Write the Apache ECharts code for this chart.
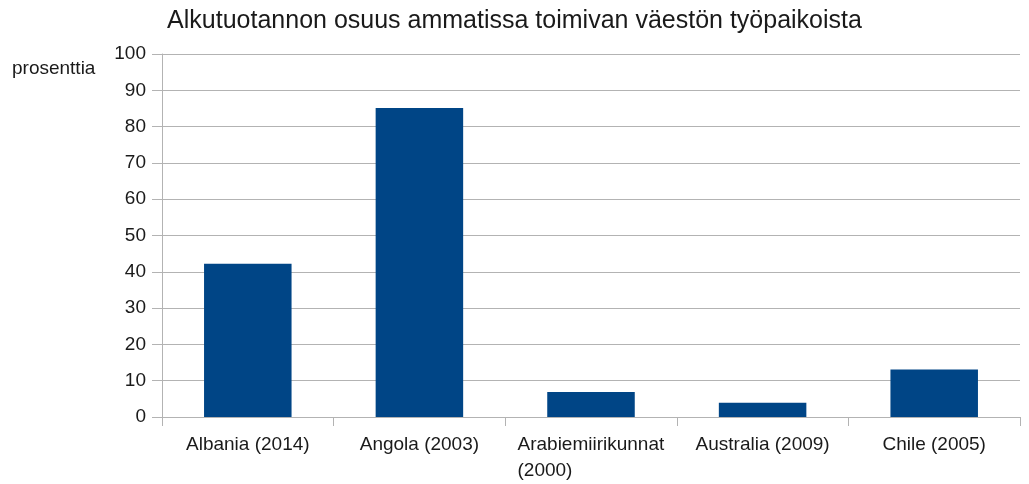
<!DOCTYPE html>
<html>
<head>
<meta charset="utf-8">
<script src="https://cdn.jsdelivr.net/npm/echarts@6/dist/echarts.min.js"></script>
<style>
  html, body { margin: 0; padding: 0; background: #fff; }
  #main { width: 1029px; height: 484px; }
</style>
</head>
<body>
<div id="main"></div>
<script>
// otsikko ja akselin nimi
var chartTitle = 'Alkutuotannon osuus ammatissa toimivan väestön työpaikoista';
var unitName = 'prosenttia';

// maat (vuosi)
var countries = ['Albania (2014)', 'Angola (2003)', 'Arabiemiirikunnat (2000)', 'Australia (2009)', 'Chile (2005)'];
// osuus, %
var shares = [42.2, 85.1, 6.9, 3.9, 13.1];
// y-akselin asteikko
var yTicks = [0, 10, 20, 30, 40, 50, 60, 70, 80, 90, 100];

var font = '"Liberation Sans", Arial, sans-serif';
var textColor = '#1a1a1a';
var gridColor = '#b3b3b3';

var myChart = echarts.init(document.getElementById('main'));

var option = {
    animation: false,
    backgroundColor: '#fff',
    title: {
        text: chartTitle,
        left: 'center',
        top: 4,
        textStyle: {
            fontFamily: font,
            fontSize: 25,
            fontWeight: 'normal',
            color: textColor
        }
    },
    graphic: [{
        type: 'text',
        left: 12,
        top: 59,
        style: {
            text: unitName,
            font: '19px ' + font,
            fill: textColor
        }
    }],
    grid: {
        left: 162,
        right: 9,
        top: 54,
        bottom: 61
    },
    xAxis: {
        type: 'category',
        data: countries,
        axisLine: {lineStyle: {color: gridColor, width: 1}},
        axisTick: {show: true, length: 9, lineStyle: {color: gridColor}},
        axisLabel: {
            interval: 0,
            margin: 15,
            fontFamily: font,
            fontSize: 19,
            color: textColor,
            lineHeight: 26,
            // pitkä nimi kahdelle riville, rivit vasemmalle
            formatter: function (v) {
                if (v.length > 18) {
                    var i = v.lastIndexOf(' ');
                    return '{w|' + v.slice(0, i) + '}\n{w|' + v.slice(i + 1) + '}';
                }
                return v;
            },
            rich: {
                w: {
                    width: 147,
                    align: 'left',
                    fontFamily: font,
                    fontSize: 19,
                    lineHeight: 26,
                    color: textColor
                }
            }
        }
    },
    yAxis: {
        type: 'value',
        min: yTicks[0],
        max: yTicks[yTicks.length - 1],
        interval: yTicks[1] - yTicks[0],
        axisLine: {show: true, lineStyle: {color: gridColor, width: 1}},
        axisTick: {show: true, length: 10, lineStyle: {color: gridColor}},
        splitLine: {show: true, lineStyle: {color: gridColor, width: 1}},
        axisLabel: {
            margin: 16,
            fontFamily: font,
            fontSize: 19,
            color: textColor
        }
    },
    series: [{
        type: 'bar',
        data: shares,
        barWidth: '51%',
        itemStyle: {color: '#004586'}
    }]
};

myChart.setOption(option);
</script>
</body>
</html>
